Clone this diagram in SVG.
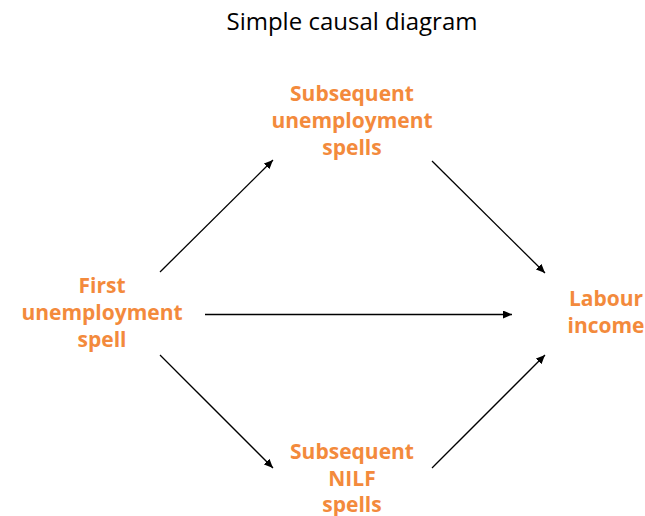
<svg xmlns="http://www.w3.org/2000/svg" width="645" height="516" viewBox="0 0 645 516">
  <style>
    .title { font-family: "Open Sans", "Liberation Sans", sans-serif; font-size: 24px; fill: #000; text-anchor: middle; }
    .lbl { font-family: "Open Sans", "Liberation Sans", sans-serif; font-size: 21px; font-weight: bold; fill: #F38A3C; text-anchor: middle; }
    .edge { stroke: #000; stroke-width: 1.3; fill: none; marker-end: url(#arrow); }
  </style>
  <defs>
    <marker id="arrow" markerUnits="userSpaceOnUse" markerWidth="10" markerHeight="8" refX="9" refY="4" orient="auto">
      <path d="M0,0 L9,4 L0,8 Z" fill="#000"/>
    </marker>
  </defs>
  <rect width="645" height="516" fill="#fff"/>
  <text class="title" x="352" y="30">Simple causal diagram</text>

  <g id="connectors">
    <line class="edge" x1="160" y1="272" x2="273" y2="160"/>
    <line class="edge" x1="432" y1="161" x2="545" y2="273"/>
    <line class="edge" x1="205" y1="314.5" x2="512" y2="314.5"/>
    <line class="edge" x1="160" y1="355" x2="273" y2="468"/>
    <line class="edge" x1="432" y1="468" x2="545" y2="355"/>
  </g>

  <g id="first-unemployment-spell">
    <text class="lbl" x="102" y="293">First</text>
    <text class="lbl" x="102" y="320">unemployment</text>
    <text class="lbl" x="102" y="347">spell</text>
  </g>
  <g id="subsequent-unemployment-spells">
    <text class="lbl" x="352" y="101">Subsequent</text>
    <text class="lbl" x="352" y="128">unemployment</text>
    <text class="lbl" x="352" y="155">spells</text>
  </g>
  <g id="labour-income">
    <text class="lbl" x="606" y="306">Labour</text>
    <text class="lbl" x="606" y="333">income</text>
  </g>
  <g id="subsequent-nilf-spells">
    <text class="lbl" x="352" y="459">Subsequent</text>
    <text class="lbl" x="352" y="486">NILF</text>
    <text class="lbl" x="352" y="512">spells</text>
  </g>
</svg>
